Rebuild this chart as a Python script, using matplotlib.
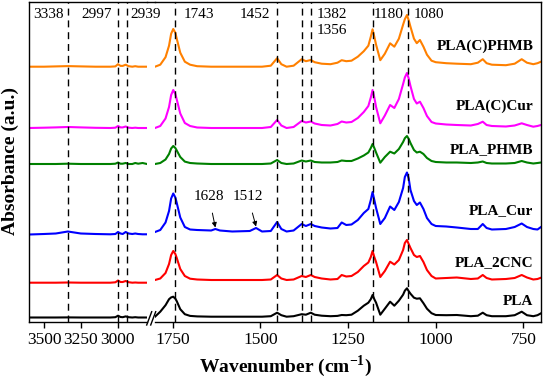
import numpy as np
import matplotlib.pyplot as plt
from matplotlib.lines import Line2D

plt.rcParams['font.family'] = ['Liberation Serif', 'DejaVu Serif']
plt.rcParams['mathtext.fontset'] = 'custom'
plt.rcParams['mathtext.rm'] = 'Liberation Serif'
plt.rcParams['mathtext.bf'] = 'Liberation Serif:bold'

# spectra (a.u., each relative to its own baseline)
names = ['PLA(C)PHMB', 'PLA(C)Cur', 'PLA_PHMB', 'PLA_Cur', 'PLA_2CNC', 'PLA']
colors = ['#ff8000', '#ff00ff', '#008000', '#0000ff', '#ff0000', '#000000']
offsets = [255.3, 194, 158, 90, 42, 5.3]

wn_left = [3600, 3500, 3420, 3338, 3250, 3150, 3050, 3015, 2997, 2980,
           2965, 2945, 2925, 2900, 2880, 2860, 2830, 2800]

orange_l = [0, 0, 0.3, 0.6, 0.3, 0, 0, 0.3, 2.5, 0.8, 0.8, 2, 0.5, 0, 0.5, 0, 0, 0]
magenta_l = [0, 0.3, 0.6, 1, 0.6, 0.2, 0, 0.3, 2, 0.6, 0.6, 1.5, 0.3, 0, 0.3, 0, 0, 0]
green_l = [0, 0, 0, 0.3, 0, 0, 0, 0.3, 1.5, 0.3, 0.3, 1, 0, 0, 1, 0.3, 1, 0]
blue_l = [-2.5, -2, -1.5, 0.5, -1.5, -2, -2.3, -2, 0, -1.5, -2, 0, -1.5, -2,
          -1.5, -2, -2.3, -2.3]
red_l = [-2.7, -2.7, -2.7, -2.5, -2.7, -2.7, -2.7, -2.3, -0.5, -2, -2, -1,
         -2.2, -2.7, -2.5, -2.7, -2.7, -2.7]
black_l = [-0.8, -0.8, -0.8, -0.7, -0.8, -0.8, -0.8, -0.5, 1, -0.3, -0.5,
           0.3, -0.5, -0.8, -0.5, -0.8, -0.8, -0.8]

wn_right = [1800, 1785, 1770, 1760, 1754, 1748, 1742, 1738, 1728, 1715,
            1700, 1680, 1640, 1628, 1615, 1580, 1530, 1512, 1495, 1470,
            1452, 1440, 1425, 1405, 1382, 1370, 1356, 1345, 1325, 1300,
            1280, 1268, 1255, 1240, 1222, 1205, 1192, 1185, 1180, 1175,
            1170, 1158, 1145, 1130, 1118, 1105, 1093, 1088, 1082, 1077,
            1072, 1062, 1054, 1045, 1035, 1025, 1012, 1000, 970, 940,
            900, 880, 866, 855, 840, 800, 775, 755, 740, 722,
            710, 700]

orange_r = [0, 2, 9.5, 21, 33, 37.7, 34, 28, 14, 5,
            2, 0.5, 0, 0, 0, 0, 0, 0, 0, 1,
            8.5, 2.5, 0, 1, 7.5, 5.5, 6.7, 4.5, 3, 2.5,
            4, 6.5, 5.5, 6, 10, 15.5, 21, 30, 37.4, 30,
            22, 6.5, 13, 23.4, 20, 28, 42, 47.5, 51.7, 46.5,
            40, 28, 23.5, 26.7, 20, 12, 6, 4.5, 3.5, 3,
            2.5, 4, 7.5, 3.5, 2, 1.5, 3, 7.5, 4, 2.5,
            3.5, 5]
magenta_r = [0, 2, 9.5, 21, 33, 38, 34, 28.5, 14.5, 5,
             2, 0.5, 0, 0, 0, 0, 0, 0, 0, 1,
             8, 2.5, 0, 1, 7, 5.5, 6.5, 4.5, 3, 2.5,
             4, 6.5, 5.5, 6, 10, 16, 22, 30.5, 38, 30.5,
             21, 4.7, 12.5, 23, 20, 29, 44, 50.5, 55, 49.5,
             42, 29, 24.5, 26.3, 20, 12, 6, 4.5, 3.5, 3,
             2.5, 4, 6.3, 3, 2, 1.5, 2.5, 4.7, 3, 1.3,
             2, 3]
green_r = [0, 1, 4.5, 10, 15.5, 18, 16, 13.5, 7, 2.4,
           1, 0.5, 0, 0, 0, 0, 0, 0, 0, 0.5,
           4, 1, 0, 0.5, 3.5, 2.5, 3.5, 2, 1.5, 1.5,
           2, 3.5, 3, 3, 5.5, 8.5, 11.5, 16, 20, 16,
           11.5, 1.3, 7, 12.3, 10.5, 15, 22, 25.8, 28, 25.2,
           21, 14, 11.5, 12.3, 10, 6, 3, 2, 1.5, 1.5,
           1, 1.5, 2.5, 1, 0.5, 0.5, 1, 3, 1.5, 0.5,
           1, 1.5]
blue_r = [0, 2, 9.5, 21, 33.5, 38.5, 34.5, 29, 14.5, 5,
          2.5, 2, 1.5, 3, 1.5, 0.5, 1, 4, 0.5, 1,
          10, 3, 0.5, 1.5, 8, 6, 8, 6, 4.5, 3.5,
          4, 9.5, 7, 7.5, 12, 19, 23, 32, 40, 32,
          24, 8, 14, 25.5, 22, 30, 44, 55, 59.5, 53.5,
          42, 31, 27, 29.5, 23, 14, 8, 6, 5.5, 4.5,
          3, 3, 8, 4, 2.5, 3, 5, 8.5, 5, 3,
          2.5, 5]
red_r = [0, 1.5, 7, 16, 25, 29, 26, 22, 11, 4,
         1.3, 0.5, 0, 0, 0, 0, 0, 0, 0, 0.5,
         5, 1.5, 0, 0.5, 4, 3, 5, 3, 1.5, 0.5,
         1, 5, 3.5, 4, 8, 14, 17.5, 23, 29, 23,
         18, 3, 9, 18.3, 15.5, 20, 30, 37, 40, 36,
         32, 25, 23, 24, 18, 10, 4, 1.5, 2, 2.5,
         1, 1.5, 5, 2, 0.5, 1, 2, 5, 2.5, 0.5,
         1, 2.3]
black_r = [0, 5, 11.5, 17.5, 19.3, 20, 18, 15.5, 7.5, 2.5,
           0.8, 0.3, 0, 0, 0, 0, 0, 0, 0, 0.5,
           4, 1.5, 0, 0.5, 2.5, 2, 4, 2, 1, 0.5,
           0.8, 1.7, 1.5, 2, 6, 11, 14, 17.5, 21.7, 17.5,
           14, 2, 8, 15, 11, 16, 22, 26, 28.4, 25.5,
           23, 19, 18, 18.4, 13.5, 8, 3.5, 1.7, 1.5, 1.7,
           0.5, 1, 4, 1.5, 0.5, 0.5, 1.5, 5, 1.5, 0.5,
           1.5, 3.4]

left_data = [orange_l, magenta_l, green_l, blue_l, red_l, black_l]
right_data = [orange_r, magenta_r, green_r, blue_r, red_r, black_r]

peaks = [3338, 2997, 2939, 1743, 1452, 1382, 1356, 1180, 1080]
peak_text_x = [3473, 3140, 2809, 1675, 1515, 1296, 1296, 1133, 1019]
peak_text_y = [308, 308, 308, 308, 308, 308, 291, 308, 308]
label_y = [276, 215.3, 172, 111.3, 59.3, 20.3]

W, H = 543, 379
fig = plt.figure(figsize=(W / 100, H / 100), dpi=100)
ax1 = fig.add_axes([29.3 / W, 57 / H, 117.7 / W, 320 / H])
ax2 = fig.add_axes([155 / W, 57 / H, 386 / W, 320 / H])
ax2.patch.set_visible(False)

for i in range(len(names)):
    ax1.plot(wn_left, np.array(left_data[i]) + offsets[i], color=colors[i], lw=1.5)
    ax2.plot(wn_right, np.array(right_data[i]) + offsets[i], color=colors[i], lw=1.5)
    ax2.text(0.9806, label_y[i], names[i], transform=ax2.get_yaxis_transform(),
             ha='right', va='center', fontsize=11, weight='bold')

for p, tx, ty in zip(peaks, peak_text_x, peak_text_y):
    ax = ax1 if p > 2000 else ax2
    ax.axvline(p, color='k', ls=(0, (5, 3.5)), lw=1)
    ax.text(tx, ty, str(p), ha='center', va='center', fontsize=11)

for wn, tx in [(1628, 1646), (1512, 1535)]:
    tip = offsets[3] + blue_r[wn_right.index(wn)] + 1.5
    ax2.annotate(str(wn), xy=(wn, tip), xytext=(tx, 125), ha='center', va='center',
                 fontsize=11,
                 arrowprops=dict(arrowstyle='-|>', color='k', lw=0.7,
                                 mutation_scale=7, shrinkA=5, shrinkB=0))

ax1.set_xlim(3600, 2800)
ax2.set_xlim(1800, 700)
for ax in (ax1, ax2):
    ax.set_ylim(0, 320)
    ax.set_yticks([])
    ax.tick_params(axis='x', direction='out', length=4, width=1, labelsize=12.5, pad=3)
    for s in ax.spines.values():
        s.set_linewidth(1)
ax1.set_xticks([3500, 3250, 3000])
ax2.set_xticks([1750, 1500, 1250, 1000, 750])
ax1.spines['right'].set_visible(False)
ax2.spines['left'].set_visible(False)

# axis break marks and top line over the gap
for x0 in (146.7, 150.7):
    fig.add_artist(Line2D([x0 / W, (x0 + 5) / W], [1 - 325 / H, 1 - 311.7 / H],
                          color='k', lw=1))
fig.add_artist(Line2D([147 / W, 155 / W], [1 - 2 / H, 1 - 2 / H], color='k', lw=1))

fig.text(10 / W, 1 - 161 / H, 'Absorbance (a.u.)', rotation=90, ha='center',
         va='center', fontsize=14, weight='bold')
fig.text(285.5 / W, 1 - 366 / H, r'Wavenumber (cm$^{\mathbf{-1}}$)', ha='center',
         va='center', fontsize=14, weight='bold')

fig.savefig('out.png', dpi=100)
